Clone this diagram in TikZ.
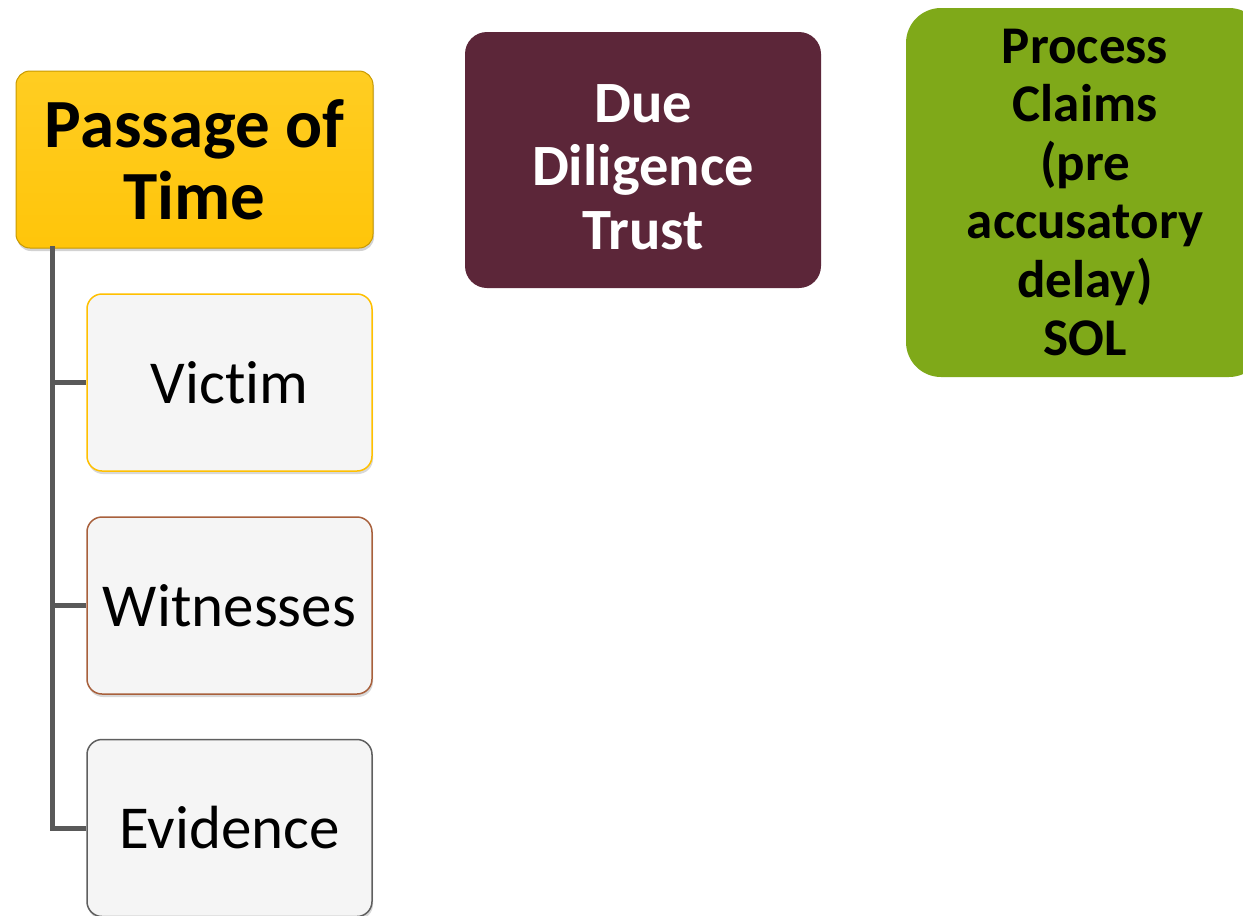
\documentclass[tikz,border=0pt]{standalone}
\usepackage{fontspec}
\setmainfont{Carlito}[RawFeature=-liga]
\usetikzlibrary{shadows}
\definecolor{gold}{HTML}{FFC50A}
\definecolor{goldtop}{HTML}{FFCD22}
\definecolor{goldedge}{HTML}{C99A00}
\definecolor{boxfill}{HTML}{F5F5F5}
\definecolor{victimedge}{HTML}{FFC000}
\definecolor{witedge}{HTML}{A8603C}
\definecolor{evedge}{HTML}{5F5F5F}
\definecolor{conncol}{HTML}{595959}
\definecolor{maroon}{HTML}{5C2639}
\definecolor{leaf}{HTML}{7FA919}
\tikzset{
  rootbox/.style={draw=goldedge, line width=1pt, top color=goldtop, bottom color=gold,
    rounded corners=14pt, minimum width=357pt, minimum height=177pt, align=center,
    font=\fontsize{69}{72}\selectfont\bfseries, text=black,
    drop shadow={opacity=0.35, shadow xshift=1pt, shadow yshift=-3pt}},
  childbox/.style={fill=boxfill, line width=1.5pt, rounded corners=15pt,
    minimum width=285pt, minimum height=177pt, align=center,
    font=\fontsize{61}{70}\selectfont, text=black,
    drop shadow={opacity=0.3, shadow xshift=1pt, shadow yshift=-3pt}},
  topicbox/.style={rounded corners=22pt},
  topictext/.style={align=center, inner sep=0pt},
  conn/.style={draw=conncol, line width=5pt}
}
\begin{document}
\begin{tikzpicture}[x=1pt,y=-1pt]
\useasboundingbox (0,0) rectangle (1243,916);
\clip (0,0) rectangle (1243,916);
\fill[white] (0,0) rectangle (1243,916);
\coordinate (trunk) at (52,246);
\node[rootbox] (root) at (194.5,159.5) {Passage of\\Time};
\node[childbox, draw=victimedge] (victim) at (229.5,382.5) {Victim};
\node[childbox, draw=witedge] (wit) at (229.5,605.5) {Witnesses};
\node[childbox, draw=evedge] (evid) at (229.5,828) {Evidence};
\draw[conn] (trunk) |- (evid.west);
\draw[conn] (trunk) |- (victim.west);
\draw[conn] (trunk) |- (wit.west);
\node[topicbox, fill=maroon, minimum width=356pt, minimum height=256pt] (due) at (643,160) {};
\node[topictext, text=white, font=\fontsize{58.5}{63.5}\selectfont\bfseries] (duetext) at (643,167)
  {Due\\Diligence\\Trust};
\node[topicbox, fill=leaf, rounded corners=35pt, minimum width=358pt, minimum height=369pt] (proc) at (1085,192.5) {};
\node[topictext, text=black, font=\fontsize{53}{58.5}\selectfont\bfseries] (proctext) at (1085,192.5)
  {Process\\Claims\\(pre\\accusatory\\delay)\\SOL};
\end{tikzpicture}
\end{document}
